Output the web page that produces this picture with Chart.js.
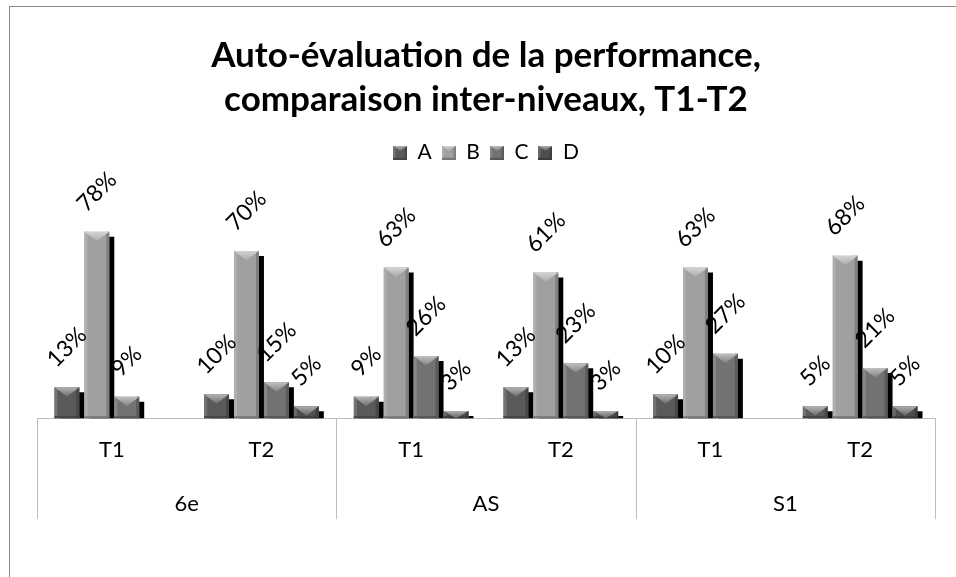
<!DOCTYPE html>
<html lang="fr">
<head>
<meta charset="utf-8">
<title>Auto-évaluation de la performance</title>
<script src="https://cdn.jsdelivr.net/npm/chart.js@4.4.1/dist/chart.umd.min.js"></script>
<style>
  html, body { margin: 0; padding: 0; background: #fff; }
</style>
</head>
<body>
<canvas id="chart" width="956" height="577"></canvas>
<script>
// valeurs (en %)
const periodes = ['T1', 'T2', 'T1', 'T2', 'T1', 'T2'];
const niveaux = ['6e', 'AS', 'S1'];
const serieA = [13, 10, 9, 13, 10, 5];
const serieB = [78, 70, 63, 61, 63, 68];
const serieC = [9, 15, 26, 23, 27, 21];
const serieD = [null, 5, 3, 3, null, 5];
const seriesNames = ['A', 'B', 'C', 'D'];
const seriesColors = ['#5a5a5a', '#a0a0a0', '#727272', '#4e4e4e'];

const FONT = 'Lato, sans-serif';

function shade(hex, amt) {
    const n = parseInt(hex.slice(1), 16);
    let r = (n >> 16) & 255, g = (n >> 8) & 255, b = n & 255;
    const target = amt > 0 ? 255 : 0;
    const k = Math.abs(amt);
    r = Math.round(r + (target - r) * k);
    g = Math.round(g + (target - g) * k);
    b = Math.round(b + (target - b) * k);
    return `rgb(${r},${g},${b})`;
}

function drawBevel(ctx, l, t, w, h, color) {
    const d = Math.min(w * 0.38, h);
    const s = Math.min(3, w / 6);
    ctx.fillStyle = shade(color, 0.15);
    ctx.fillRect(l, t, s, h);
    ctx.fillStyle = shade(color, -0.2);
    ctx.fillRect(l + w - s, t, s, h);
    ctx.fillStyle = shade(color, -0.25);
    ctx.fillRect(l, t + h - 2, w, 2);
    const g = ctx.createLinearGradient(0, t, 0, t + d);
    g.addColorStop(0, shade(color, 0.55));
    g.addColorStop(1, shade(color, 0.12));
    ctx.fillStyle = g;
    ctx.beginPath();
    ctx.moveTo(l, t);
    ctx.lineTo(l + w, t);
    ctx.lineTo(l + w / 2, t + d);
    ctx.closePath();
    ctx.fill();
}

function makeMarker(color) {
    const c = document.createElement('canvas');
    c.width = 14;
    c.height = 14;
    const mctx = c.getContext('2d');
    mctx.fillStyle = color;
    mctx.fillRect(0, 0, 14, 14);
    drawBevel(mctx, 0, 0, 14, 14, color);
    return c;
}
const markers = seriesColors.map(makeMarker);

// cadre + fond, séparateurs des niveaux
const framePlugin = {
    id: 'frame',
    beforeDraw(chart) {
        const ctx = chart.ctx;
        ctx.save();
        ctx.fillStyle = '#fff';
        ctx.fillRect(0, 0, chart.width, chart.height);
        ctx.strokeStyle = '#8a8a8a';
        ctx.lineWidth = 1;
        ctx.strokeRect(9.5, 6.5, chart.width + 20, chart.height + 20);
        ctx.restore();
    },
    afterDraw(chart) {
        const ctx = chart.ctx;
        const area = chart.chartArea;
        const step = (area.right - area.left) / niveaux.length;
        ctx.save();
        ctx.strokeStyle = '#bdbdbd';
        ctx.lineWidth = 1;
        for (let k = 0; k <= niveaux.length; k++) {
            const px = Math.round(area.left + k * step) + 0.5;
            ctx.beginPath();
            ctx.moveTo(px, area.bottom);
            ctx.lineTo(px, area.bottom + 101);
            ctx.stroke();
        }
        ctx.restore();
    }
};

// ombre + biseau des barres, puis étiquettes
const bevelPlugin = {
    id: 'bevel',
    beforeDatasetsDraw(chart) {
        const ctx = chart.ctx;
        ctx.save();
        ctx.shadowColor = '#000';
        ctx.shadowOffsetX = 5;
        ctx.shadowOffsetY = 5;
        ctx.shadowBlur = 0;
    },
    afterDatasetsDraw(chart) {
        const ctx = chart.ctx;
        ctx.restore();
        chart.data.datasets.forEach((ds, i) => {
            const meta = chart.getDatasetMeta(i);
            meta.data.forEach((bar, j) => {
                if (ds.data[j] == null) return;
                const p = bar.getProps(['x', 'y', 'base', 'width'], true);
                drawBevel(ctx, p.x - p.width / 2, p.y, p.width, p.base - p.y, ds.backgroundColor);
            });
        });
        ctx.save();
        ctx.font = `23px ${FONT}`;
        ctx.fillStyle = '#000';
        ctx.textAlign = 'center';
        ctx.textBaseline = 'middle';
        chart.data.datasets.forEach((ds, i) => {
            const meta = chart.getDatasetMeta(i);
            meta.data.forEach((bar, j) => {
                const v = ds.data[j];
                if (v == null) return;
                const p = bar.getProps(['x', 'y'], true);
                const txt = v + '%';
                const tw = ctx.measureText(txt).width;
                const cy = p.y - 24 - tw * 0.707 / 2;
                ctx.save();
                ctx.translate(p.x, cy);
                ctx.rotate(-Math.PI / 4);
                ctx.fillText(txt, 0, 0);
                ctx.restore();
            });
        });
        ctx.restore();
    }
};

const datasets = [serieA, serieB, serieC, serieD].map((values, i) => ({
    label: seriesNames[i],
    data: values,
    backgroundColor: seriesColors[i],
    borderWidth: 0,
    categoryPercentage: 0.8,
    barPercentage: 0.83
}));

new Chart(document.getElementById('chart'), {
    type: 'bar',
    data: {
        labels: periodes,
        datasets: datasets
    },
    options: {
        responsive: false,
        animation: false,
        layout: {
            padding: { left: 37, right: 21, top: 0, bottom: 52 }
        },
        plugins: {
            title: {
                display: true,
                text: ['Auto-évaluation de la performance,', 'comparaison inter-niveaux, T1-T2'],
                color: '#000',
                font: { family: FONT, size: 35, weight: 'bold', lineHeight: 1.26 },
                padding: { top: 34, bottom: 10 }
            },
            legend: {
                display: true,
                position: 'top',
                labels: {
                    color: '#000',
                    font: { family: FONT, size: 21 },
                    usePointStyle: true,
                    pointStyleWidth: 14,
                    boxHeight: 14,
                    padding: 10,
                    generateLabels(chart) {
                        const items = Chart.defaults.plugins.legend.labels.generateLabels(chart);
                        return items.map((it, i) => Object.assign(it, { pointStyle: markers[i] }));
                    }
                }
            },
            tooltip: { enabled: false }
        },
        scales: {
            x: {
                grid: { display: false, drawTicks: false },
                border: { display: true, color: '#bdbdbd' },
                ticks: {
                    color: '#000',
                    font: { family: FONT, size: 22 },
                    padding: 19,
                    maxRotation: 0,
                    autoSkip: false
                }
            },
            x2: {
                type: 'category',
                labels: niveaux,
                position: 'bottom',
                offset: true,
                grid: { display: false, drawTicks: false },
                border: { display: false },
                ticks: {
                    color: '#000',
                    font: { family: FONT, size: 22 },
                    padding: 8,
                    maxRotation: 0
                }
            },
            y: {
                display: false,
                min: 0,
                max: 102.5
            }
        }
    },
    plugins: [framePlugin, bevelPlugin]
});
</script>
</body>
</html>
